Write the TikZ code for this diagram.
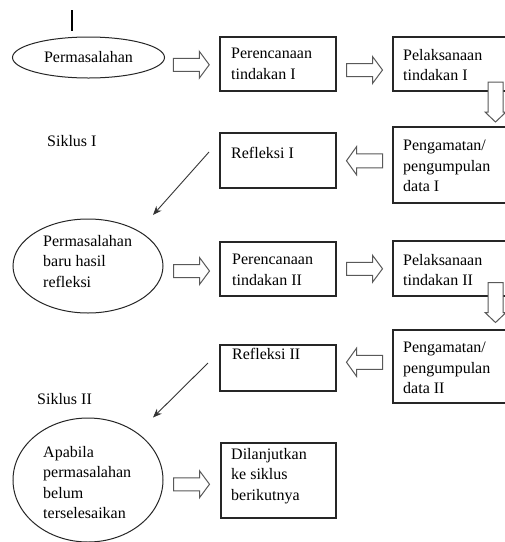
\documentclass[tikz,border=0pt]{standalone}
\usepackage{fontspec}
\setmainfont{Liberation Serif}
\usetikzlibrary{shapes.geometric,calc,arrows.meta}
\tikzset{
  txt/.style={inner sep=0pt, anchor=north west, align=left, font=\fontsize{16}{20.5}\selectfont, text=black},
  boxn/.style={draw=black!85, line width=1.1pt, rectangle, inner sep=0pt, outer sep=0pt, anchor=north west},
  ell/.style={ellipse, inner sep=0pt, outer sep=0pt},
  ellline/.style={draw=black!85, line width=1pt},
  arrline/.style={draw=black!65, line width=1pt, fill=white, line join=miter},
  diag/.style={draw=black!80, line width=0.9pt, -{Stealth[length=9pt,width=7pt]}},
  pics/barR/.style={code={\path[arrline] (-18,-6.5) -- (8,-6.5) -- (8,-13.5) -- (18,0) -- (8,13.5) -- (8,6.5) -- (-18,6.5) -- cycle;}},
  pics/barL/.style={code={\path[arrline] (18,-7) -- (-8,-7) -- (-8,-14) -- (-18,0) -- (-8,14) -- (-8,7) -- (18,7) -- cycle;}},
  pics/barD/.style={code={\path[arrline] (-7.5,-20) -- (-7.5,10) -- (-10.5,10) -- (0,20) -- (10.5,10) -- (7.5,10) -- (7.5,-20) -- cycle;}}
}
\begin{document}
\begin{tikzpicture}[x=1pt,y=-1pt]
\clip (0,0) rectangle (505,542);
\fill[white] (0,0) rectangle (505,542);

% top mark
\coordinate (m0) at (72,10);
\coordinate (m1) at (72,31);
\draw[line width=1.6pt, black] (m0) -- (m1);

% ellipses
\node[ell, minimum width=152, minimum height=41, font=\fontsize{16}{20.5}\selectfont] (e1) at (88.5,57.5) {Permasalahan};
\draw[ellline] (e1.center) ellipse [x radius=76, y radius=20.5];
\node[ell, minimum width=150, minimum height=94] (e2) at (88,266) {};
\draw[ellline] (e2.center) ellipse [x radius=75, y radius=47];
\node[ell, minimum width=150, minimum height=124] (e3) at (88,480) {};
\draw[ellline] (e3.center) ellipse [x radius=75, y radius=62];

% boxes
\node[boxn, minimum width=116, minimum height=54] (p1) at (220,37) {};
\node[boxn, minimum width=130, minimum height=54] (q1) at (393,37) {};
\node[boxn, minimum width=130, minimum height=76] (g1) at (393,127) {};
\node[boxn, minimum width=116, minimum height=55] (r1) at (220,133) {};
\node[boxn, minimum width=116, minimum height=54] (p2) at (220,242) {};
\node[boxn, minimum width=130, minimum height=55] (q2) at (393,241) {};
\node[boxn, minimum width=130, minimum height=73] (g2) at (393,330) {};
\node[boxn, minimum width=116, minimum height=46] (r2) at (220,345) {};
\node[boxn, minimum width=115, minimum height=75] (dl) at (221,443) {};

% texts
\node[txt] (tp1) at (231,48) {Perencanaan\\tindakan I};
\node[txt] (tq1) at (403,49) {Pelaksanaan\\tindakan I};
\node[txt] (tg1) at (403,140) {Pengamatan/\\pengumpulan\\data I};
\node[txt] (tr1) at (231,147) {Refleksi I};
\node[txt] (ts1) at (47,135) {Siklus I};
\node[txt] (te2) at (43,235) {Permasalahan\\baru hasil\\refleksi};
\node[txt] (tp2) at (232,254) {Perencanaan\\tindakan II};
\node[txt] (tq2) at (403,254) {Pelaksanaan\\tindakan II};
\node[txt] (tg2) at (403,342) {Pengamatan/\\pengumpulan\\data II};
\node[txt] (tr2) at (232,348) {Refleksi II};
\node[txt] (ts2) at (37,393) {Siklus II};
\node[txt] (te3) at (43,446) {Apabila\\permasalahan\\belum\\terselesaikan};
\node[txt] (tdl) at (231,448) {Dilanjutkan\\ke siklus\\berikutnya};

% block arrows
\pic at ($(e1.east)!0.5!(p1.west)+(-1,4)$) {barR};
\pic at ($(p1.east)!0.5!(q1.west)+(0,6)$) {barR};
\pic at ($(q1.south west)!0.5!(g1.north west)+(102.5,-7)$) {barD};
\pic at ($(r1.east)!0.5!(g1.west)+(0,-2)$) {barL};
\pic at ($(e2.east)!0.5!(p2.west)+(0,3.5)$) {barR};
\pic at ($(p2.east)!0.5!(q2.west)+(0,0)$) {barR};
\pic at ($(q2.south west)!0.5!(g2.north west)+(102.5,-10.5)$) {barD};
\pic at ($(r2.east)!0.5!(g2.west)+(0,-5)$) {barL};
\pic at ($(e3.east)!0.5!(dl.west)+(-0.5,4)$) {barR};

% diagonal arrows
\coordinate (d1s) at ($(r1.north west)+(-11,19)$);
\coordinate (d1e) at ($(e2.north)+(65,-4)$);
\draw[diag] (d1s) -- (d1e);
\coordinate (d2s) at ($(r2.north west)+(-12,18)$);
\coordinate (d2e) at ($(e3.north)+(65,-0.5)$);
\draw[diag] (d2s) -- (d2e);
\end{tikzpicture}
\end{document}
